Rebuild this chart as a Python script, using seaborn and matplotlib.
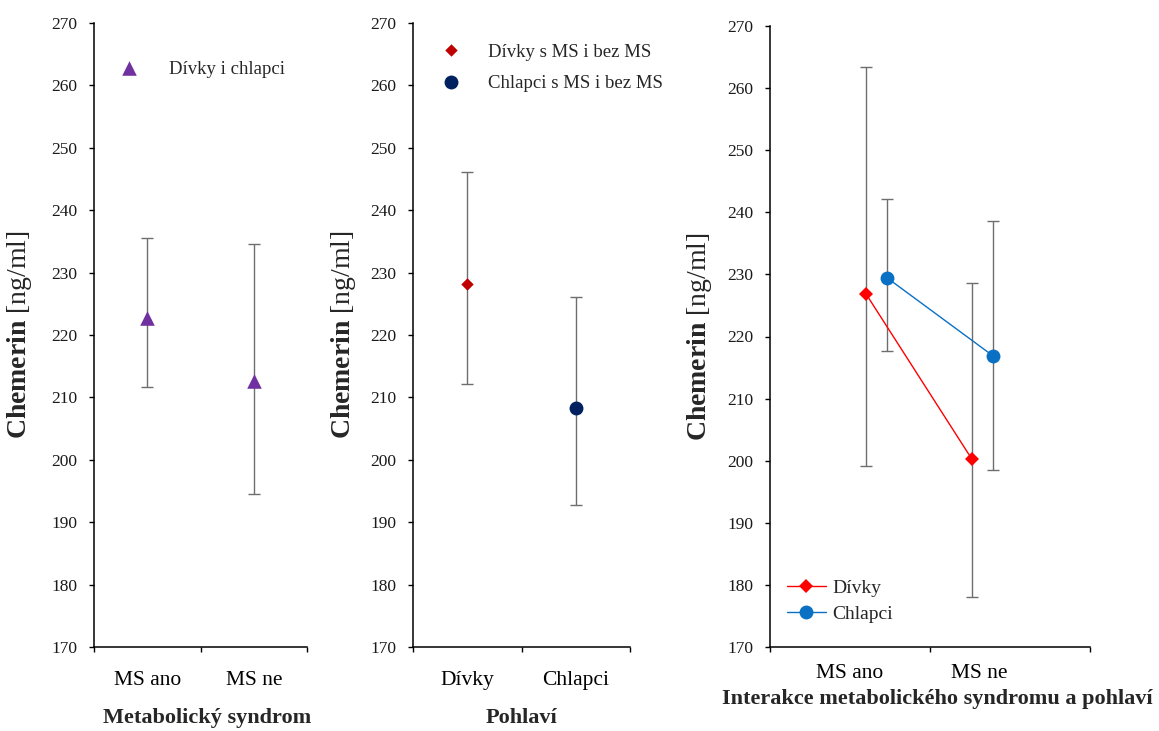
import numpy as np
import pandas as pd
import matplotlib
matplotlib.use("Agg")
import matplotlib.pyplot as plt
import seaborn as sns

# ---------------- data ----------------
# Panel 1: metabolic syndrome (girls and boys together)
ms_categories = ["MS ano", "MS ne"]
ms_mean = [222.8, 212.7]
ms_low = [211.6, 194.5]
ms_high = [235.5, 234.6]
ms_legend = "Dívky i chlapci"

# Panel 2: sex
sex_categories = ["Dívky", "Chlapci"]
sex_mean = [228.1, 208.3]
sex_low = [212.2, 192.8]
sex_high = [246.2, 226.1]
sex_legend = ["Dívky s MS i bez MS", "Chlapci s MS i bez MS"]

# Panel 3: interaction
inter_categories = ["MS ano", "MS ne"]
series_names = ["Dívky", "Chlapci"]
girls_mean = [226.9, 200.2]
girls_low = [199.2, 178.1]
girls_high = [263.4, 228.6]
boys_mean = [229.5, 216.9]
boys_low = [217.6, 198.5]
boys_high = [242.2, 238.6]

y_ticks = list(range(170, 271, 10))
x_titles = ["Metabolický syndrom", "Pohlaví",
            "Interakce metabolického syndromu a pohlaví"]
y_title = r"$\mathbf{Chemerin}$ [ng/ml]"

# ---------------- style ----------------
sns.set_style("ticks")
plt.rcParams["font.family"] = ["Liberation Serif", "DejaVu Serif"]
plt.rcParams["mathtext.fontset"] = "custom"
plt.rcParams["mathtext.rm"] = "Liberation Serif"
plt.rcParams["mathtext.bf"] = "Liberation Serif:bold"
plt.rcParams["axes.linewidth"] = 1.1

ERR_COLOR = "#6e6e6e"
W, H = 1159, 731
fig = plt.figure(figsize=(W / 100, H / 100), dpi=100)


def add_axes(left, right, top, bottom):
    return fig.add_axes([left / W, 1 - bottom / H, (right - left) / W, (bottom - top) / H])


def style_axes(ax, cats, label_pos, xtitle, tick_pad, ylabel_x, xlabel_xy):
    ax.set_xlim(-0.5, 1.5)
    ax.set_ylim(170, 270)
    ax.set_yticks(y_ticks)
    ax.set_yticklabels([str(v) for v in y_ticks], fontsize=12.5, color="#1a1a1a")
    ax.set_xticks([-0.5, 0.5, 1.5])
    ax.set_xticklabels(["", "", ""])
    ax.set_xticks(label_pos, cats, minor=True)
    ax.tick_params(axis="x", which="minor", length=0, pad=tick_pad, labelsize=15.5,
                   labelcolor="black")
    ax.tick_params(axis="both", which="major", direction="out", length=3.6, width=1.0,
                   color="black")
    ax.tick_params(axis="y", which="major", pad=8.5)
    for s in ["top", "right"]:
        ax.spines[s].set_visible(False)
    for s in ["left", "bottom"]:
        ax.spines[s].set_color("black")
    ax.set_ylabel(y_title, fontsize=20)
    ax.yaxis.set_label_coords(ylabel_x, 0.5)
    ax.set_xlabel(xtitle, fontsize=16, fontweight="bold")
    ax.xaxis.set_label_coords(*xlabel_xy)
    ax.grid(False)


def draw_err(ax, x, mean, low, high):
    mean = np.asarray(mean)
    yerr = [mean - np.asarray(low), np.asarray(high) - mean]
    ax.errorbar(x, mean, yerr=yerr, fmt="none", ecolor=ERR_COLOR, elinewidth=1.0,
                capsize=4, capthick=1.0, zorder=2)


# ---------------- panel 1 ----------------
ax1 = add_axes(94, 307, 23, 647)
x1 = np.arange(len(ms_categories))
draw_err(ax1, x1, ms_mean, ms_low, ms_high)
sns.scatterplot(x=x1, y=ms_mean, ax=ax1, marker="^", s=110, color="#7030A0",
                linewidth=0, zorder=3, label=ms_legend)
style_axes(ax1, ms_categories, x1, x_titles[0], 17.5, -0.282, (0.53, -0.098))
ax1.legend(loc="upper left", bbox_to_anchor=(0.075, 0.939), frameon=False,
           fontsize=13.5, borderpad=0, borderaxespad=0, handlelength=2,
           handletextpad=1.15, scatteryoffsets=[0.5])

# ---------------- panel 2 ----------------
ax2 = add_axes(413, 630, 23, 647)
x2 = np.arange(len(sex_categories))
draw_err(ax2, x2, sex_mean, sex_low, sex_high)
sns.scatterplot(x=x2[:1], y=sex_mean[:1], ax=ax2, marker="D", s=40, color="#C00000",
                linewidth=0, zorder=3, label=sex_legend[0])
sns.scatterplot(x=x2[1:], y=sex_mean[1:], ax=ax2, marker="o", s=100, color="#002060",
                linewidth=0, zorder=3, label=sex_legend[1])
style_axes(ax2, sex_categories, x2, x_titles[1], 17.5, -0.253, (0.498, -0.098))
ax2.legend(loc="upper left", bbox_to_anchor=(0.088, 0.967), frameon=False,
           fontsize=13.5, borderpad=0, borderaxespad=0, handlelength=2,
           handletextpad=1.0, labelspacing=0.77, scatteryoffsets=[0.5])

# ---------------- panel 3 ----------------
ax3 = add_axes(770, 1089.5, 26, 647)
spacing, offsets = 0.665, [0.10, 0.23]
idx = np.arange(len(inter_categories))
x3g = idx * spacing + offsets[0]
x3b = idx * spacing + offsets[1]
draw_err(ax3, x3g, girls_mean, girls_low, girls_high)
draw_err(ax3, x3b, boys_mean, boys_low, boys_high)
sns.lineplot(x=x3g, y=girls_mean, ax=ax3, color="#FF0000", linewidth=1.0,
             marker="D", markersize=7, markeredgewidth=0, sort=False,
             label=series_names[0], zorder=3)
sns.lineplot(x=x3b, y=boys_mean, ax=ax3, color="#0A70C4", linewidth=1.0,
             marker="o", markersize=10, markeredgewidth=0, sort=False,
             label=series_names[1], zorder=3)
style_axes(ax3, inter_categories, [0.0, 0.81], x_titles[2], 12.5, -0.175, (0.523, -0.068))
ax3.legend(loc="upper left", bbox_to_anchor=(0.053, 0.109), frameon=False,
           fontsize=14, borderpad=0, borderaxespad=0, handlelength=2.0,
           handletextpad=0.35, labelspacing=0.45)

fig.savefig("out.png", dpi=100)
